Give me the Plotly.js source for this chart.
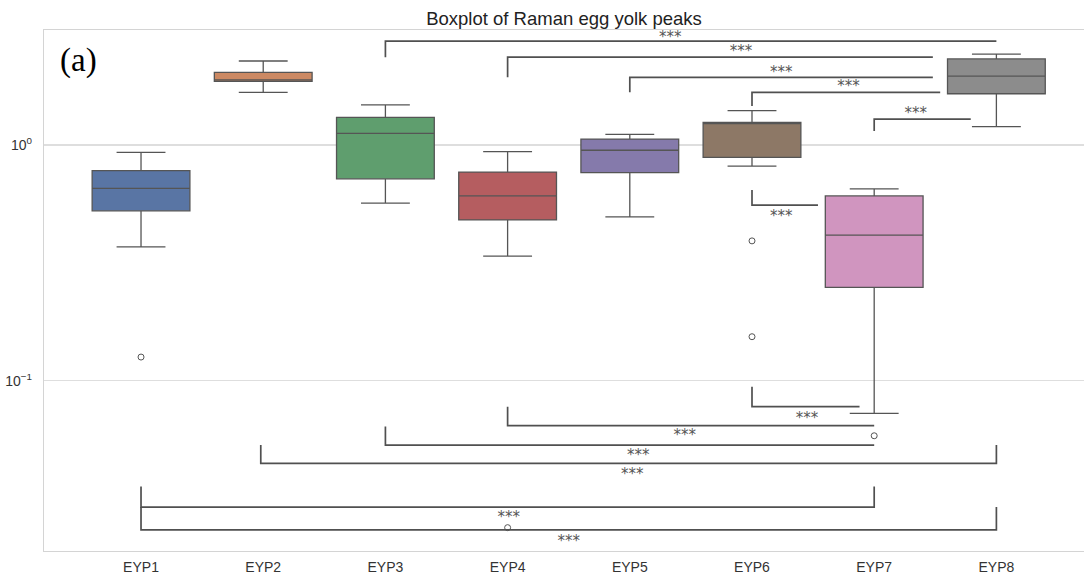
<!DOCTYPE html>
<html>
<head>
<meta charset="utf-8">
<script src="https://cdn.plot.ly/plotly-3.0.1.min.js"></script>
<style>html,body{margin:0;padding:0;background:#fff;}#chart{width:1084px;height:577px;}</style>
</head>
<body>
<div id="chart"></div>
<script>
// ---- data ----
const categories = ["EYP1","EYP2","EYP3","EYP4","EYP5","EYP6","EYP7","EYP8"];
const lowerFence = [0.370, 1.673, 0.567, 0.338, 0.496, 0.814, 0.0727, 1.196];
const q1         = [0.526, 1.863, 0.719, 0.481, 0.763, 0.887, 0.249, 1.650];
const medians    = [0.655, 1.890, 1.121, 0.609, 0.950, 1.234, 0.415, 1.960];
const q3         = [0.778, 2.034, 1.310, 0.768, 1.060, 1.248, 0.608, 2.320];
const upperFence = [0.931, 2.272, 1.480, 0.937, 1.110, 1.398, 0.651, 2.430];
const boxColors  = ["#5975a4","#cc8963","#5f9e6e","#b55d60","#857aab","#8d7866","#d095bf","#8c8c8c"];

const outlierCat = [0, 3, 5, 5, 6];
const outlierVal = [0.126, 0.0238, 0.392, 0.1537, 0.0584];

// significance brackets: polyline vertices (category index, value)
const bracketX = [
  [2, 2, 7],
  [3, 3, 6.48],
  [4, 4, 6.48],
  [5, 5, 6.54],
  [6, 6, 6.79],
  [5, 5, 5.54],
  [5, 5, 5.88],
  [3, 3, 6],
  [2, 2, 6],
  [0.98, 0.98, 7, 7],
  [0, 0, 6, 6],
  [0, 0, 7, 7]
];
const bracketY = [
  [2.36, 2.76, 2.76],
  [1.937, 2.36, 2.36],
  [1.673, 1.937, 1.937],
  [1.464, 1.673, 1.673],
  [1.147, 1.289, 1.289],
  [0.644, 0.556, 0.556],
  [0.0943, 0.0776, 0.0776],
  [0.0776, 0.0645, 0.0645],
  [0.0639, 0.0533, 0.0533],
  [0.0533, 0.0446, 0.0446, 0.0533],
  [0.0356, 0.0291, 0.0291, 0.0356],
  [0.0291, 0.0233, 0.0233, 0.0291]
];
const starX = [4.33, 4.91, 5.24, 5.79, 6.34, 5.24, 5.45, 4.45, 4.07, 4.02, 3.01, 3.50];
const starY = [2.85, 2.48, 2.01, 1.765, 1.355, 0.494, 0.0689, 0.0581, 0.0478, 0.0396, 0.0260, 0.0206];
const starLabel = "***";

// ---- traces ----
const traces = [];
categories.forEach((c, i) => {
  traces.push({
    type: "box",
    x: [i],
    q1: [q1[i]], median: [medians[i]], q3: [q3[i]],
    lowerfence: [lowerFence[i]], upperfence: [upperFence[i]],
    width: 0.8,
    whiskerwidth: 0.5,
    fillcolor: boxColors[i],
    line: { color: "#555555", width: 1.3 },
    boxpoints: false,
    showlegend: false,
    hoverinfo: "skip"
  });
});
traces.push({
  type: "scatter", mode: "markers",
  x: outlierCat, y: outlierVal,
  marker: { symbol: "circle-open", size: 6, color: "#555555", line: { width: 1, color: "#555555" } },
  showlegend: false, hoverinfo: "skip"
});
bracketX.forEach((bx, k) => {
  traces.push({
    type: "scatter", mode: "lines",
    x: bx, y: bracketY[k],
    line: { color: "#505050", width: 1.7 },
    showlegend: false, hoverinfo: "skip"
  });
});
traces.push({
  type: "scatter", mode: "text",
  x: starX, y: starY,
  text: starX.map(() => starLabel),
  textposition: "middle center",
  textfont: { family: "DejaVu Sans, sans-serif", size: 15, color: "#555555" },
  showlegend: false, hoverinfo: "skip"
});

const layout = {
  width: 1084, height: 577,
  margin: { l: 44, r: 0, t: 30, b: 26 },
  paper_bgcolor: "#ffffff", plot_bgcolor: "#ffffff",
  font: { family: "Liberation Sans, Arial, sans-serif", color: "#333333" },
  title: {
    text: "Boxplot of Raman egg yolk peaks",
    x: 0.5, xref: "paper", y: 0.968, yref: "container", yanchor: "middle",
    font: { family: "Liberation Sans, Arial, sans-serif", size: 18.5, color: "#222222" }
  },
  boxmode: "overlay",
  xaxis: {
    range: [-0.794, 7.717],
    tickvals: categories.map((c, i) => i),
    ticktext: categories,
    showgrid: false, zeroline: false,
    showline: true, linecolor: "#d4d4d4", linewidth: 1.2, mirror: true,
    ticks: "outside", ticklen: 3, tickcolor: "rgba(0,0,0,0)",
    tickfont: { size: 14, color: "#333333" }
  },
  yaxis: {
    type: "log",
    range: [-1.7225, 0.488],
    tickvals: [0.1, 1],
    ticktext: ["10<sup>−1</sup>", "10<sup>0</sup>"],
    showgrid: true, gridcolor: "#dedede", gridwidth: 1.2,
    zeroline: false,
    showline: true, linecolor: "#d4d4d4", linewidth: 1.2,
    ticks: "outside", ticklen: 8, tickcolor: "rgba(0,0,0,0)",
    tickfont: { size: 14, color: "#333333" }
  },
  annotations: [{
    text: "(a)", xref: "paper", yref: "paper", x: 0.0327, y: 0.9405,
    xanchor: "center", yanchor: "middle", showarrow: false,
    font: { family: "Liberation Serif, Times New Roman, serif", size: 33, color: "#000000" }
  }]
};

Plotly.newPlot("chart", traces, layout, { staticPlot: true, displayModeBar: false });
</script>
</body>
</html>
